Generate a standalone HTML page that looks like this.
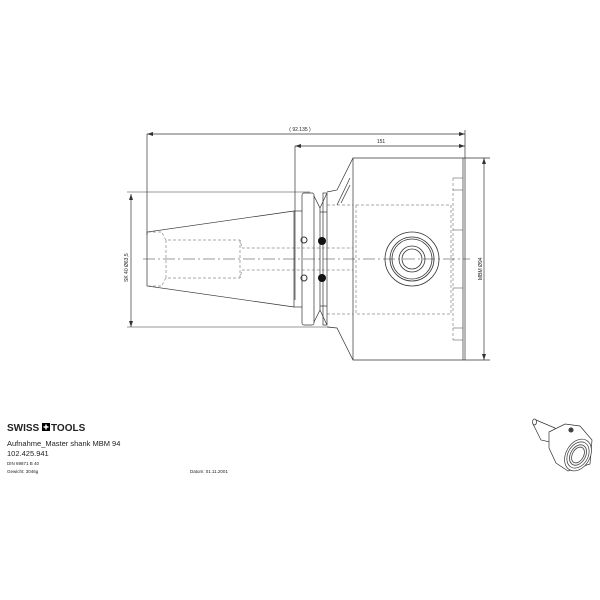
<!DOCTYPE html>
<html><head><meta charset="utf-8"><style>
html,body{margin:0;padding:0;background:#fff;width:600px;height:600px;overflow:hidden}
svg{display:block}
text{font-family:"Liberation Sans",sans-serif;fill:#222}
</style></head><body>
<svg width="600" height="600" viewBox="0 0 600 600" xmlns="http://www.w3.org/2000/svg">
<g stroke="#333" stroke-width="0.7" fill="none">
<line x1="147" y1="134" x2="465" y2="134"/>
<line x1="295" y1="146" x2="465" y2="146"/>
<line x1="147" y1="134" x2="147" y2="235"/>
<line x1="295" y1="146" x2="295" y2="300"/>
<line x1="465" y1="130" x2="465" y2="158"/>
<line x1="131" y1="194" x2="131" y2="327"/>
<line x1="127" y1="192" x2="310" y2="192" stroke-width="0.5"/>
<line x1="127" y1="327" x2="330" y2="327" stroke-width="0.5"/>
<line x1="484" y1="158" x2="484" y2="360"/>
<line x1="465" y1="158" x2="490" y2="158"/>
<line x1="465" y1="360" x2="490" y2="360"/>
<polyline points="294,211 147,232 147,286 294,307"/>
<line x1="294" y1="211" x2="294" y2="307"/>
<line x1="294" y1="211" x2="302" y2="211"/>
<line x1="294" y1="307" x2="302" y2="307"/>
<rect x="302" y="193" width="12" height="132" rx="2"/>
<path d="M314,196 L320,208 L320,310 L314,322"/>
<path d="M327,193 L320,208 M327,325 L320,310"/>
<rect x="323" y="193" width="4" height="132"/>
<line x1="320" y1="212" x2="327" y2="212"/>
<line x1="320" y1="306" x2="327" y2="306"/>
<polyline points="327,192 337,190 353,158 465,158 465,360 353,360 337,328 327,327"/>
<line x1="353" y1="158" x2="353" y2="360"/>
<path d="M337,205 L350,178 M341,203 L350,185"/>
<line x1="463" y1="158" x2="463" y2="360"/>
</g>
<g stroke="#555" stroke-width="0.5" fill="none" stroke-dasharray="3,2">
<rect x="356" y="205" width="95" height="109"/>
<polyline points="148,232 162,232 164,237 166,240 240,240 242,248 353,248"/>
<polyline points="148,286 162,286 164,281 166,278 240,278 242,270 353,270"/>
<line x1="166" y1="240" x2="166" y2="278"/>
<line x1="240" y1="240" x2="240" y2="278"/>
<line x1="327" y1="205" x2="353" y2="205"/>
<line x1="327" y1="314" x2="353" y2="314"/>
<line x1="453" y1="178" x2="453" y2="340"/>
</g>
<g stroke="#444" stroke-width="0.5" fill="none">
<line x1="453" y1="178" x2="463" y2="178"/><line x1="453" y1="340" x2="463" y2="340"/>
<line x1="453" y1="190" x2="463" y2="190"/><line x1="453" y1="230" x2="463" y2="230"/>
<line x1="453" y1="288" x2="463" y2="288"/><line x1="453" y1="328" x2="463" y2="328"/>
</g>
<line x1="143" y1="259" x2="470" y2="259" stroke="#333" stroke-width="0.5" stroke-dasharray="12,3,2,3"/>
<g stroke="#333" stroke-width="0.8" fill="none">
<circle cx="412" cy="259" r="27"/>
<circle cx="412" cy="259" r="22"/>
<circle cx="412" cy="259" r="20"/>
<circle cx="412" cy="259" r="13"/>
<circle cx="412" cy="259" r="10"/>
</g>
<g fill="#111">
<circle cx="322" cy="241" r="4"/><circle cx="322" cy="278" r="4"/>
<circle cx="304" cy="240" r="3" fill="none" stroke="#333"/><circle cx="304" cy="278" r="3" fill="none" stroke="#333"/>
</g>
<g fill="#333">
<polygon points="147,134 153,132 153,136"/><polygon points="465,134 459,132 459,136"/>
<polygon points="295,146 301,144 301,148"/><polygon points="465,146 459,144 459,148"/>
<polygon points="131,194 129,200 133,200"/><polygon points="131,327 129,321 133,321"/>
<polygon points="484,158 482,164 486,164"/><polygon points="484,360 482,354 486,354"/>
</g>
<text x="300" y="131" font-size="5" text-anchor="middle">( 92.135 )</text>
<text x="381" y="143" font-size="5" text-anchor="middle">151</text>
<text font-size="5" transform="translate(128,282) rotate(-90)">SK 40  Ø63,5</text>
<text font-size="5" transform="translate(482,280) rotate(-90)">MBM  Ø94</text>
<text x="7" y="431" font-size="10" font-weight="bold" fill="#000">SWISS</text>
<rect x="42" y="423" width="8" height="8" fill="#000"/>
<path d="M46,424.5 v5 M43.5,427 h5" stroke="#fff" stroke-width="1.5"/>
<text x="51" y="431" font-size="10" font-weight="bold" fill="#000">TOOLS</text>
<text x="7" y="446" font-size="7.5" font-family="Liberation Mono" fill="#333">Aufnahme_Master shank MBM 94</text>
<text x="7" y="456" font-size="7.5" font-family="Liberation Mono" fill="#333">102.425.941</text>
<text x="7" y="465" font-size="4.5" fill="#444">DIN 69871 B 40</text>
<text x="7" y="473" font-size="4.5" fill="#444">Gewicht: 3046g</text>
<text x="190" y="473" font-size="4.5" fill="#444">Datum: 01.11.2001</text>
<g stroke="#333" stroke-width="0.7" fill="#fff">
<path d="M536,420 L555,428 L554,443 L541,440 L533,424 Z"/>
<ellipse cx="534.5" cy="422" rx="2" ry="3"/>
<path d="M549,432 L565,424 L580,426 L592,440 L590,464 L568,471 L556,463 L549,448 Z"/>
<ellipse cx="578" cy="455" rx="12" ry="17" transform="rotate(30 578 455)"/>
<ellipse cx="578" cy="455" rx="10" ry="14" transform="rotate(30 578 455)"/>
<ellipse cx="578" cy="455" rx="7.5" ry="11" transform="rotate(30 578 455)" fill="#eee"/>
<ellipse cx="578" cy="455" rx="5.5" ry="8.5" transform="rotate(30 578 455)"/>
<circle cx="571" cy="430" r="2.2" fill="#444"/>
</g>
</svg>
</body></html>
